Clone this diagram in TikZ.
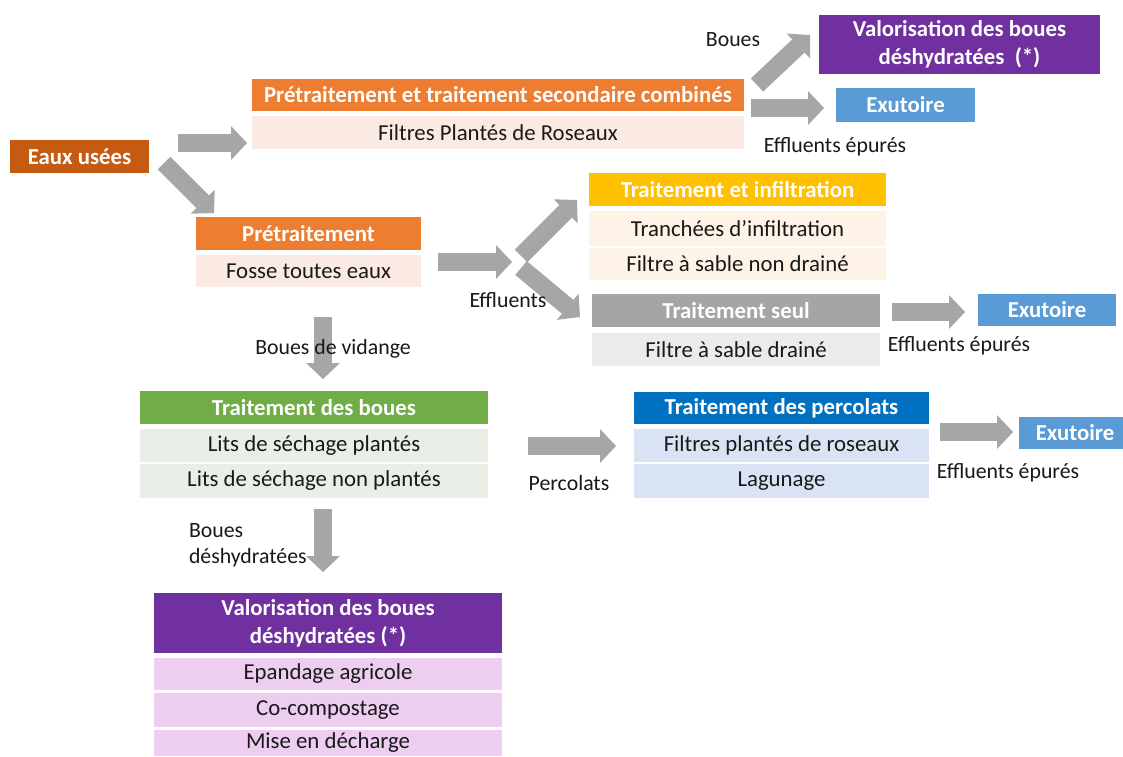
\documentclass[tikz,border=0pt]{standalone}
\usepackage{fontspec}
\setmainfont{Carlito}
\usetikzlibrary{arrows.meta}
\definecolor{eauxc}{HTML}{C55A11}
\definecolor{orc}{HTML}{ED7D31}
\definecolor{orl}{HTML}{FBEAE3}
\definecolor{yec}{HTML}{FFC000}
\definecolor{yel}{HTML}{FEF3E7}
\definecolor{grc}{HTML}{A5A5A5}
\definecolor{grl}{HTML}{EBEBEB}
\definecolor{gnc}{HTML}{70AD47}
\definecolor{gnl}{HTML}{E9EEE6}
\definecolor{blc}{HTML}{0070C0}
\definecolor{bll}{HTML}{DAE3F3}
\definecolor{exc}{HTML}{5B9BD5}
\definecolor{puc}{HTML}{7030A0}
\definecolor{pul}{HTML}{EDCDF0}
\definecolor{arrowgray}{HTML}{A6A6A6}
\tikzset{
  box/.style={inner sep=0pt, outer sep=0pt, align=center},
  hd/.style={box, text=white, font=\fontsize{22.8}{28}\selectfont\bfseries},
  bd/.style={box, text=black!90, font=\fontsize{22.8}{26}\selectfont},
  lbl/.style={inner sep=0pt, outer sep=0pt, text=black!90, font=\fontsize{21.8}{26}\selectfont},
  barrow/.style={draw=arrowgray, line width=18pt, -{Triangle[width=34pt,length=16pt,line width=0pt]}}
}
% \bx{name}{style}{fill}{x1}{y1}{x2}{y2}{text}
\newcommand\bx[8]{\node[#2, fill=#3, minimum width={#6pt-#4pt}, minimum height={#7pt-#5pt}]
  (#1) at ({(#4+#6)/2},{(#5+#7)/2}) {#8};}
\begin{document}
\begin{tikzpicture}[x=1pt,y=-1pt]
\useasboundingbox[fill=white] (0,0) rectangle (1123,756);

% boxes
\bx{eaux}{hd}{eauxc}{10}{140}{149}{173}{Eaux usées}
\bx{combH}{hd}{orc}{252}{79}{744}{111}{Prétraitement et traitement secondaire combinés}
\bx{combS}{bd}{orl}{252}{116}{744}{149}{Filtres Plantés de Roseaux}
\bx{valT}{hd}{puc}{819}{15}{1100}{74}{Valorisation des boues\\déshydratées\ \ (*)}
\bx{exuT}{hd}{exc}{836}{88}{975}{122}{Exutoire}

\bx{preH}{hd}{orc}{196}{217}{421}{250}{Prétraitement}
\bx{preS}{bd}{orl}{196}{255}{421}{287}{Fosse toutes eaux}

\bx{infH}{hd}{yec}{589}{173}{886}{206}{Traitement et infiltration}
\bx{infS1}{bd}{yel}{589}{211}{886}{246}{Tranchées d’infiltration}
\bx{infS2}{bd}{yel}{589}{248}{886}{280}{Filtre à sable non drainé}

\bx{seulH}{hd}{grc}{592}{294}{880}{327}{Traitement seul}
\bx{seulS}{bd}{grl}{592}{333}{880}{366}{Filtre à sable drainé}
\bx{exuM}{hd}{exc}{978}{294}{1116}{326}{Exutoire}

\bx{bouH}{hd}{gnc}{140}{391}{488}{424}{Traitement des boues}
\bx{bouS1}{bd}{gnl}{140}{429}{488}{462}{Lits de séchage plantés}
\bx{bouS2}{bd}{gnl}{140}{464}{488}{498}{Lits de séchage non plantés}

\bx{perH}{hd}{blc}{634}{392}{929}{424}{Traitement des percolats}
\bx{perS1}{bd}{bll}{634}{429}{929}{462}{Filtres plantés de roseaux}
\bx{perS2}{bd}{bll}{634}{464}{929}{498}{Lagunage}
\bx{exuB}{hd}{exc}{1019}{417}{1131}{449}{Exutoire}

\bx{valB}{hd}{puc}{154}{593}{502}{653}{Valorisation des boues\\déshydratées (*)}
\bx{valS1}{bd}{pul}{154}{658}{502}{690}{Epandage agricole}
\bx{valS2}{bd}{pul}{154}{693}{502}{727}{Co-compostage}
\bx{valS3}{bd}{pul}{154}{730}{502}{756}{Mise en décharge}

% arrow end points
\coordinate (a1s) at (178,143);  \coordinate (a1e) at (247,143);
\coordinate (a2s) at (164,163);  \coordinate (a2e) at (214,213);
\coordinate (a3s) at (757,85);   \coordinate (a3e) at (810,35);
\coordinate (a4s) at (751,108);  \coordinate (a4e) at (824,108);
\coordinate (a5s) at (438,262);  \coordinate (a5e) at (512,262);
\coordinate (a6s) at (521,256);  \coordinate (a6e) at (577,200);
\coordinate (a7s) at (521,268);  \coordinate (a7e) at (580,317);
\coordinate (a8s) at (892,312);  \coordinate (a8e) at (965,312);
\coordinate (a9s) at (323,317);  \coordinate (a9e) at (323,379);
\coordinate (a10s) at (528,446); \coordinate (a10e) at (616,446);
\coordinate (a11s) at (940,432); \coordinate (a11e) at (1013,432);
\coordinate (a12s) at (323,509); \coordinate (a12e) at (323,572);

\foreach \i in {1,...,12} {\draw[barrow] (a\i s) -- (a\i e);}

% labels
\node[lbl] (lBoues) at (733,40) {Boues};
\node[lbl] (lEffT) at (835,147) {Effluents épurés};
\node[lbl] (lEff) at (508,300) {Effluents};
\node[lbl] (lEffM) at (959,346) {Effluents épurés};
\node[lbl] (lVid) at (333,349) {Boues de vidange};
\node[lbl] (lPerc) at (569,483) {Percolats};
\node[lbl] (lEffB) at (1008,473) {Effluents épurés};
\node[lbl, anchor=west, align=left] (lDes) at (189,545) {Boues\\déshydratées};
\end{tikzpicture}
\end{document}
